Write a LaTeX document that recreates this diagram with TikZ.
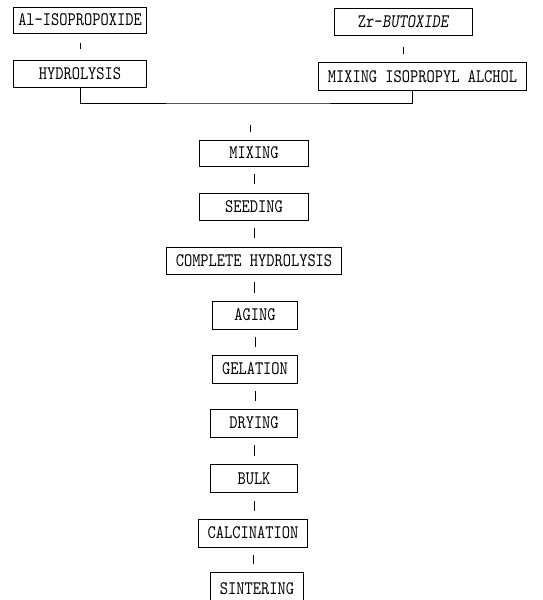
\documentclass[tikz,border=0pt]{standalone}
\usepackage{fontspec}
\newfontfamily\flowfont{lmmono10-regular.otf}[FakeStretch=0.82,ItalicFont=lmmonoslant10-regular.otf]
\usetikzlibrary{positioning}
\tikzset{>=stealth}
\tikzset{
  box/.style={draw,line width=0.7pt,inner sep=0pt,font=\flowfont\fontsize{13.6}{15}\selectfont},
  link/.style={line width=0.7pt,shorten >=0.2cm,shorten <=0.2cm}
}

\begin{document}
\begin{tikzpicture}[x=0.025cm,y=0.025cm]
\useasboundingbox (0,0) rectangle (542,600);
% two starting lines
\node[box,minimum width=3.3cm,minimum height=0.65cm] (al) at (80,580) {Al-ISOPROPOXIDE};
\node[box,minimum width=3.43cm,minimum height=0.675cm] (zr) at (403.5,578.5) {Zr-\textit{BUTOXIDE}};
\node[box,minimum width=3.3cm,minimum height=0.675cm] (hyd) at (80,526.5) {HYDROLYSIS};
\node[box,minimum width=5.22cm,minimum height=0.72cm] (mip) at (422.5,523.5) {MIXING ISOPROPYL ALCHOL};
\draw[link,shorten <=0.25cm,shorten >=0.25cm] (al) -- (hyd);
\draw[link,shorten <=0.3cm] (zr.south) -- (zr.south |- mip.north);
% joining line
\coordinate (jn) at (250,497);
\draw[line width=0.7pt] (hyd.south) |- (jn) -| ([xshift=-0.24cm]mip.south);
% main column
\node[box,minimum width=2.72cm,minimum height=0.65cm] (mix) at (254,447) {MIXING};
\node[box,minimum width=2.72cm,minimum height=0.675cm] (seed) at (254,393.5) {SEEDING};
\node[box,minimum width=4.35cm,minimum height=0.675cm] (comp) at (254,339.5) {COMPLETE HYDROLYSIS};
\node[box,minimum width=2.12cm,minimum height=0.7cm] (aging) at (255,285) {AGING};
\node[box,minimum width=2.12cm,minimum height=0.7cm] (gel) at (255,231) {GELATION};
\node[box,minimum width=2.15cm,minimum height=0.7cm] (dry) at (254,177) {DRYING};
\node[box,minimum width=2.17cm,minimum height=0.72cm] (bulk) at (254,121.5) {BULK};
\node[box,minimum width=2.72cm,minimum height=0.7cm] (calc) at (253,67) {CALCINATION};
\node[box,minimum width=2.33cm,minimum height=0.82cm] (sint) at (257,11) {SINTERING};
\draw[link,shorten <=0.55cm,shorten >=0.18cm] (jn) -- (jn |- mix.north);
\foreach \a/\b in {mix/seed,seed/comp,comp/aging,aging/gel,gel/dry,dry/bulk,bulk/calc,calc/sint}{
\draw[link] (\a.south) -- (\a.south |- \b.north);
};
\end{tikzpicture}
\end{document}
